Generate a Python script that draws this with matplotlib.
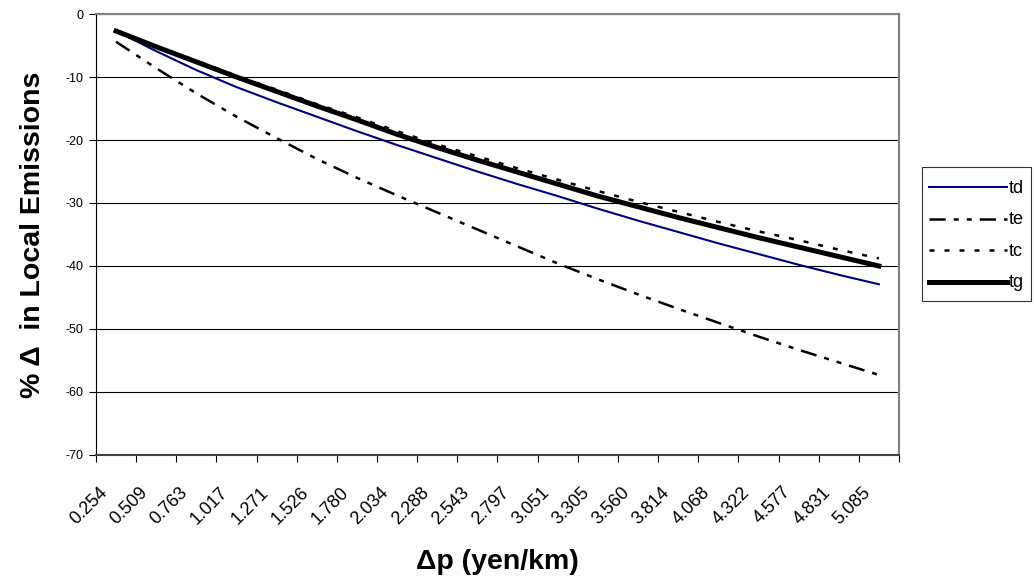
import matplotlib
matplotlib.use('Agg')
import matplotlib.pyplot as plt
import matplotlib.transforms as mtransforms
import numpy as np

plt.rcParams['font.family'] = ['Liberation Sans', 'DejaVu Sans']
plt.rcParams['axes.unicode_minus'] = False

# delta p categories (yen/km)
dp_labels = ['0.254', '0.509', '0.763', '1.017', '1.271', '1.526', '1.780', '2.034',
             '2.288', '2.543', '2.797', '3.051', '3.305', '3.560', '3.814', '4.068',
             '4.322', '4.577', '4.831', '5.085']

# % change in local emissions
td = [-2.7, -5.9, -8.9, -11.6, -14.0, -16.3, -18.6, -20.8, -22.9, -25.0,
      -27.0, -28.9, -30.9, -32.8, -34.6, -36.4, -38.1, -39.8, -41.4, -42.9]
te = [-4.4, -8.6, -12.6, -16.3, -19.7, -23.0, -26.0, -28.8, -31.5, -34.2,
      -36.9, -39.6, -42.1, -44.5, -46.8, -49.0, -51.2, -53.3, -55.3, -57.3]
tc = [-2.6, -5.1, -7.4, -9.8, -12.0, -14.3, -16.4, -18.6, -20.7, -22.6,
      -24.5, -26.3, -28.1, -29.8, -31.4, -33.0, -34.5, -35.9, -37.4, -38.8]
tg = [-2.7, -5.2, -7.6, -10.0, -12.3, -14.6, -16.8, -19.1, -21.2, -23.2,
      -25.1, -27.0, -28.9, -30.6, -32.3, -33.9, -35.5, -37.0, -38.5, -40.0]

fig = plt.figure(figsize=(10.34, 5.79), dpi=100)
ax = fig.add_axes([0.0928, 0.2142, 0.7766, 0.7616])

x = np.arange(len(dp_labels))
ax.plot(x, td, color='#000080', lw=1.5, label='td')
ax.plot(x, te, color='black', lw=1.8, dashes=(6.5, 3.2, 2.0, 3.2, 2.0, 3.2), label='te')
ax.plot(x, tc, color='black', lw=1.8, dashes=(2.0, 4.0), label='tc')
ax.plot(x, tg, color='black', lw=3.6, label='tg')

ax.set_ylim(-70, 0)
ax.set_yticks(np.arange(-70, 1, 10))
ax.yaxis.grid(True, color='black', lw=0.8)
ax.set_axisbelow(True)
ax.tick_params(axis='y', labelsize=9, direction='out', length=5, width=0.8, pad=4)

ax.set_xlim(-0.5, len(dp_labels) - 0.5)
ax.set_xticks(np.arange(-0.5, len(dp_labels), 1.0))
ax.set_xticklabels([])
ax.set_xticks(x, minor=True)
ax.set_xticklabels(dp_labels, minor=True, rotation=45, ha='right', va='center',
                   rotation_mode='anchor', fontsize=13)
ax.tick_params(axis='x', which='major', direction='out', length=5, width=0.8)
ax.tick_params(axis='x', which='minor', length=0, pad=25)
# shift rotated labels a bit left, like the original
shift = mtransforms.ScaledTranslation(-11 / 100, 0, fig.dpi_scale_trans)
for lab in ax.xaxis.get_minorticklabels():
    lab.set_transform(lab.get_transform() + shift)

for s in ['top', 'right']:
    ax.spines[s].set_color('#808080')
    ax.spines[s].set_linewidth(1.5)
ax.spines['left'].set_color('black')
ax.spines['bottom'].set_color('#404040')
ax.spines['bottom'].set_linewidth(1.5)

ax.set_xlabel('Δp (yen/km)', fontsize=20.5, fontweight='bold')
ax.xaxis.set_label_coords(0.5, -0.213)
ax.set_ylabel('% Δ  in Local Emissions', fontsize=20.5, fontweight='bold')
ax.yaxis.set_label_coords(-0.062, 0.5)

leg = ax.legend(loc='upper left', bbox_to_anchor=(0.8914, 0.7121), bbox_transform=fig.transFigure,
                frameon=True, fancybox=False, fontsize=13, handlelength=4.3, handleheight=1.8,
                handletextpad=0.1, borderpad=0.4, labelspacing=0.33, borderaxespad=0)
leg.get_frame().set_edgecolor('black')
leg.get_frame().set_linewidth(0.8)
# line samples sit a little high, push them down to the text middle
down = mtransforms.ScaledTranslation(0, -4 / 100, fig.dpi_scale_trans)
for h in leg.legend_handles:
    h.set_transform(h.get_transform() + down)

fig.savefig('out.png', dpi=100)
